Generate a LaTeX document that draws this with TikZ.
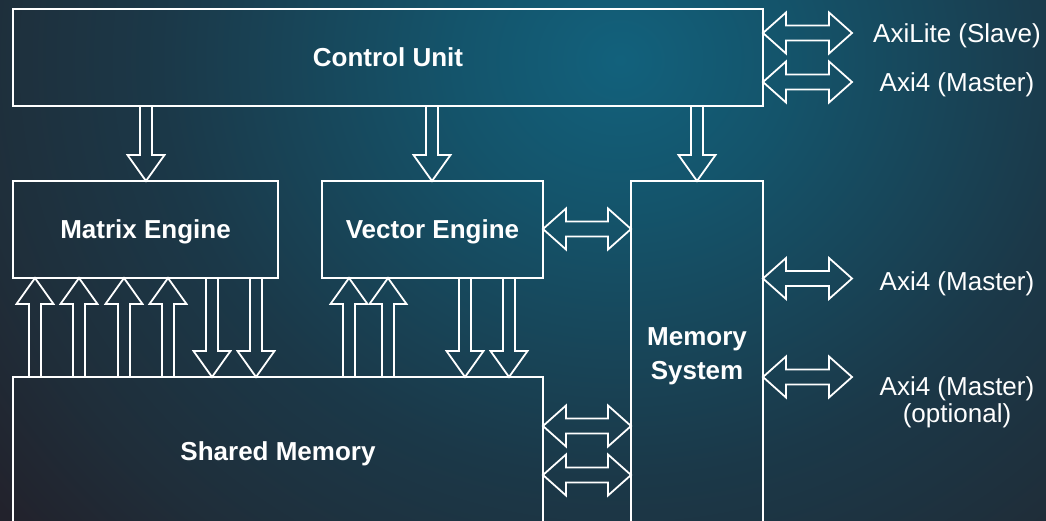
\documentclass[tikz,border=0pt]{standalone}
\usepackage{fontspec}
\setmainfont{Liberation Sans}
\usetikzlibrary{calc}

% background glow colours, from the bright centre outwards
\definecolor{bgca}{HTML}{12617C}
\definecolor{bgcb}{HTML}{14546B}
\definecolor{bgcc}{HTML}{1B3848}
\definecolor{bgcd}{HTML}{1F2E3A}
\definecolor{bgce}{HTML}{22222C}
% the shaded box below is 1760pt x 1600pt, so 25bp <-> 880pt across, 800pt down
\pgfdeclareradialshading{bgglow}{\pgfpoint{0bp}{0bp}}{%
  color(0bp)=(bgca); color(4.7bp)=(bgcb); color(13.1bp)=(bgcc);
  color(18.4bp)=(bgcd); color(22.5bp)=(bgce); color(50bp)=(bgce)}

% hollow block arrow with one head, from #1 (tail) to #2 (tip)
\newcommand\onehead[2]{%
  \coordinate (bh-n) at ($(#2)!26pt!(#1)$);
  \draw[blk] ($(#1)!6pt!90:(#2)$) -- ($(bh-n)!6pt!90:(#2)$)
    -- ($(bh-n)!18.5pt!90:(#2)$) -- (#2)
    -- ($(bh-n)!18.5pt!-90:(#2)$) -- ($(bh-n)!6pt!-90:(#2)$)
    -- ($(#1)!6pt!-90:(#2)$);
}
% hollow block arrow with a head at both ends
\newcommand\twohead[2]{%
  \coordinate (bh-a) at ($(#1)!23pt!(#2)$);
  \coordinate (bh-b) at ($(#2)!23pt!(#1)$);
  \draw[blk] (#1) -- ($(bh-a)!20.5pt!90:(#2)$) -- ($(bh-a)!7.5pt!90:(#2)$)
    -- ($(bh-b)!7.5pt!90:(#2)$) -- ($(bh-b)!20.5pt!90:(#2)$) -- (#2)
    -- ($(bh-b)!20.5pt!-90:(#2)$) -- ($(bh-b)!7.5pt!-90:(#2)$)
    -- ($(bh-a)!7.5pt!-90:(#2)$) -- ($(bh-a)!20.5pt!-90:(#2)$) -- cycle;
}

\tikzset{
  unit/.style={draw=white, line width=2pt, outer sep=0pt, inner sep=0pt,
    anchor=north west, text=white, align=center,
    font=\bfseries\fontsize{26}{34}\selectfont},
  blk/.style={draw=white, line width=1.8pt, line join=miter, miter limit=10},
  port/.style={text=white, anchor=base, inner sep=0pt,
    font=\fontsize{26}{28}\selectfont},
}

\begin{document}
\begin{tikzpicture}[x=1pt, y=-1pt]
  \useasboundingbox (0,0) rectangle (1046,521);

  % background
  \fill[bgce] (0,0) rectangle (1046,521);
  \begin{scope}
    \clip (0,0) rectangle (1046,521);
    \shade[shading=bgglow] (-260,-740) rectangle (1500,860);
  \end{scope}

  % functional units
  \node[unit, minimum width=750pt, minimum height=97pt] (cu) at (13,9) {Control Unit};
  \node[unit, minimum width=265pt, minimum height=97pt, text depth=0pt] (me) at (13,181) {Matrix Engine};
  \node[unit, minimum width=221pt, minimum height=97pt, text depth=0pt] (ve) at (322,181) {Vector Engine};
  \node[unit, minimum width=132pt, minimum height=350pt] (ms) at (631,181) {Memory\\System};
  \node[unit, minimum width=530pt, minimum height=148pt, text depth=0pt] (sm) at (13,377) {Shared Memory};

  % control unit drives the three blocks below it
  \foreach \x/\tgt in {146/me, 432/ve, 697/ms} {
    \coordinate (gx) at (\x,0);
    \coordinate (ta) at (cu.south -| gx);
    \coordinate (tb) at (\tgt.north -| gx);
    \onehead{ta}{tb}
  }

  % shared memory read ports into the engines
  \foreach \x/\tgt in {35/me, 79/me, 124/me, 168/me, 349/ve, 388/ve} {
    \coordinate (gx) at (\x,0);
    \coordinate (ta) at (sm.north -| gx);
    \coordinate (tb) at (\tgt.south -| gx);
    \onehead{ta}{tb}
  }

  % engine write ports into shared memory
  \foreach \x/\src in {212/me, 256/me, 465/ve, 509/ve} {
    \coordinate (gx) at (\x,0);
    \coordinate (ta) at (\src.south -| gx);
    \coordinate (tb) at (sm.north -| gx);
    \onehead{ta}{tb}
  }

  % links to the memory system
  \coordinate (gy) at (0,229);
  \coordinate (ha) at (ve.east |- gy);
  \coordinate (hb) at (ms.west |- gy);
  \twohead{ha}{hb}
  \foreach \y in {426, 475} {
    \coordinate (gy) at (0,\y);
    \coordinate (ha) at (sm.east |- gy);
    \coordinate (hb) at (ms.west |- gy);
    \twohead{ha}{hb}
  }

  % external bus ports
  \coordinate (pa) at (852,33);
  \coordinate (pb) at (852,82);
  \coordinate (pc) at (852,278.5);
  \coordinate (pd) at (852,377);
  \foreach \p/\src in {pa/cu, pb/cu, pc/ms, pd/ms} {
    \coordinate (ha) at (\src.east |- \p);
    \twohead{ha}{\p}
  }

  % port labels
  \node[port] (lslave) at (957,43) {AxiLite (Slave)};
  \node[port] (lmaster) at (957,92) {Axi4 (Master)};
  \node[port] (lmem) at (957,290) {Axi4 (Master)};
  \node[port] (lopt) at (957,395) {Axi4 (Master)};
  \node[port] (loptnote) at (957,422) {(optional)};
\end{tikzpicture}
\end{document}
